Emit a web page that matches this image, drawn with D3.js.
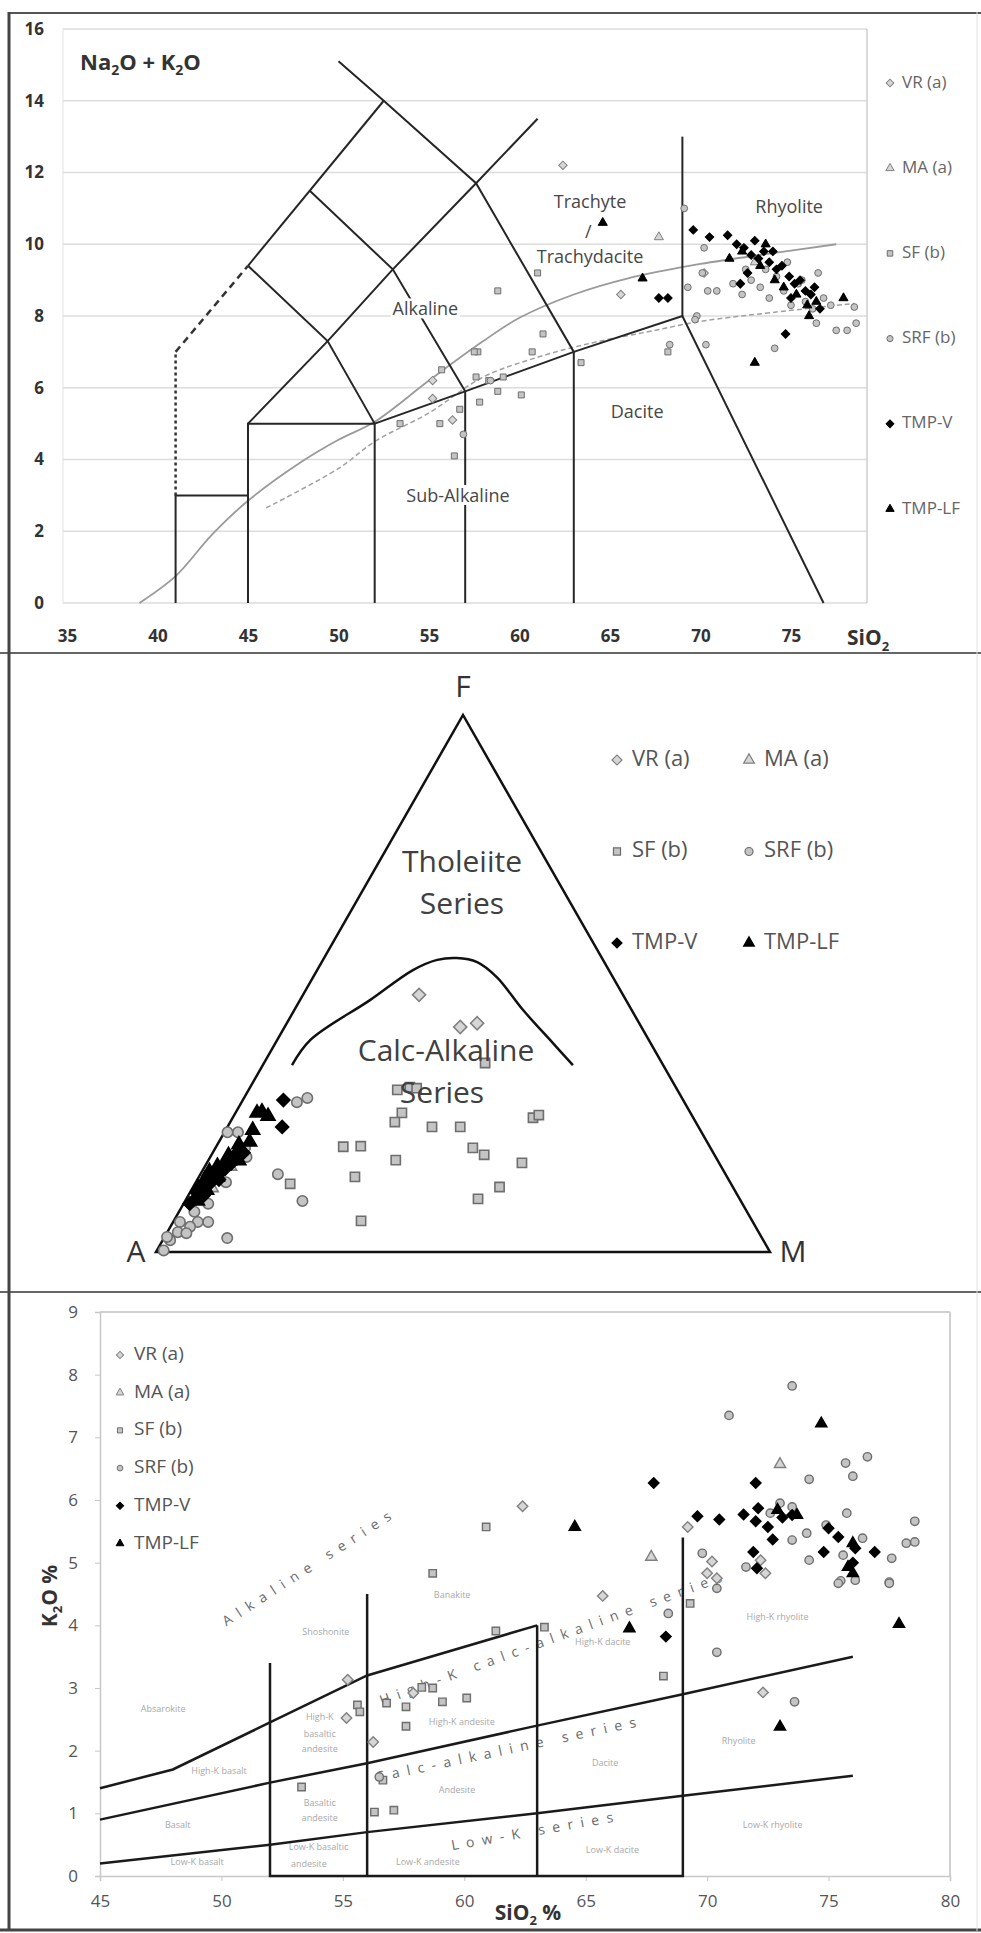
<!DOCTYPE html>
<html>
<head>
<meta charset="utf-8">
<script src="https://cdn.jsdelivr.net/npm/d3@7"></script>
<style>
body { margin: 0; background: #fff; }
svg { display: block; }
text { font-family: "Open Sans", sans-serif; }
</style>
</head>
<body>
<svg id="mysvg" width="981" height="1933"></svg>
<script>

var seriesNames = ["VR (a)", "MA (a)", "SF (b)", "SRF (b)", "TMP-V", "TMP-LF"];

// ---- TAS : [SiO2, Na2O+K2O]
var tasVR = [[62.4,12.2],[65.6,8.6],[55.2,6.2],[55.2,5.7],[56.3,5.1],[72.2,8.9],[70.2,9.2]];
var tasMA = [[67.7,10.2],[73.0,9.5]];
var tasSF = [[61.0,9.2],[58.8,8.7],[61.3,7.5],[57.7,7.0],[60.7,7.0],[57.6,6.3],[58.3,6.2],[58.8,5.9],[59.1,6.3],
	[57.8,5.6],[60.1,5.8],[63.4,6.7],[56.7,5.4],[56.4,4.1],[55.7,6.5],[53.4,5.0],[55.6,5.0],[68.2,7.0],[57.5,7.0]];
var tasSRF = [[69.1,11.0],[70.2,9.9],[70.1,9.2],[69.3,8.8],[70.4,8.7],[70.9,8.7],[69.8,8.0],[76.5,9.2],[78.5,8.25],
	[72.3,8.6],[68.3,7.2],[70.3,7.2],[69.7,7.9],[74.1,7.1],[76.4,7.8],[77.5,7.6],[78.1,7.6],[78.6,7.8],[56.9,4.7],
	[58.4,6.2],[72.8,9.0],[73.3,8.8],[73.8,8.5],[74.2,9.1],[74.6,8.7],[75.0,8.3],[75.4,8.9],[75.8,8.4],[76.2,8.2],
	[76.8,8.5],[77.2,8.3],[73.6,9.3],[74.8,9.5],[75.6,9.0],[72.5,9.3],[71.8,8.9]];
var tasTMPV = [[69.6,10.4],[70.5,10.2],[71.5,10.25],[67.7,8.5],[68.2,8.5],[74.7,7.5],[72.0,10.0],[72.4,9.9],[72.8,9.7],
	[73.2,9.6],[73.5,9.8],[73.8,9.5],[74.2,9.3],[74.5,9.4],[74.9,9.1],[75.2,8.9],[75.5,9.0],[75.8,8.7],[76.1,8.6],
	[76.3,8.8],[72.2,8.9],[72.6,9.2],[73.0,10.1],[74.0,9.8],[76.6,8.2],[75.0,8.5]];
var tasTMPLF = [[64.6,10.6],[66.8,9.05],[71.6,9.6],[77.9,8.5],[73.0,6.7],[72.3,9.8],[73.3,9.4],[74.1,9.0],[74.6,8.8],
	[75.3,8.6],[75.9,8.3],[76.4,8.4],[73.6,10.0],[76.0,8.0]];

var tasXTicks = [35, 40, 45, 50, 55, 60, 65, 70, 75];
var tasYTicks = [0, 2, 4, 6, 8, 10, 12, 14, 16];

var tasSolid = [
	[[41,0],[41,3],[45,3]],
	[[45,0],[45,5],[52,5],[52,0]],
	[[45,5],[49.4,7.3],[53,9.3],[57.6,11.7],[61,13.5]],
	[[45,9.4],[49.4,7.3],[52,5]],
	[[45,9.4],[52.5,14]],
	[[48.4,11.5],[53,9.3],[57,5.9]],
	[[50,15.1],[52.5,14],[57.6,11.7],[63,7]],
	[[52,5],[57,5.9],[63,7],[69,8],[76.8,0]],
	[[57,0],[57,5.9]],
	[[63,0],[63,7]],
	[[69,8],[69,13]]
];
var tasDotted = [[41,3],[41,7]];
var tasDashed = [[41,7],[45,9.4]];
var tasIrvine = [[39,0],[41,0.75],[43,1.9],[45,2.85],[48,3.95],[50,4.55],[52,5.05],[55,6.2],[58,7.3],[60,7.95],
	[63,8.6],[66,9.05],[70,9.45],[74,9.75],[77.5,10.0]];
var tasKuno = [[46,2.65],[50,3.75],[52,4.5],[55,5.3],[58,6.3],[61,6.85],[64,7.25],[67,7.55],[70,7.85],[74,8.1],[78.5,8.35]];

var tasNames = [["Trachyte",63.9,11.15],["/",63.8,10.3],["Trachydacite",63.9,9.6],["Rhyolite",74.9,11.0],
	["Dacite",66.5,5.3],["Alkaline",54.8,8.15],["Sub-Alkaline",56.6,2.95]];

// ---- AFM : [F %, M %]  (A = 100 - F - M)
var afmVR = [[47.9,18.9],[41.9,28.6],[42.6,31.0]];
var afmMA = [[12,3],[16,4]];
var afmSF = [[35.2,36.0],[30.2,24.2],[30.7,26.0],[30.5,27.2],[25.9,27.1],[24.2,26.8],[23.3,33.3],[23.3,37.9],
	[19.6,20.7],[19.7,23.5],[17.1,30.5],[14.0,25.4],[12.7,15.5],[5.8,30.5],[19.4,41.9],[18.1,44.4],[16.6,51.3],
	[12.1,49.9],[9.9,47.5],[25.0,48.9],[25.5,49.6]];
var afmSRF = [[27.9,9.0],[28.7,10.3],[14.5,12.6],[9.5,19.1],[2.6,10.3],[22.3,0.5],[22.3,2.2],[19.4,4.8],[17.7,5.9],
	[13.0,4.9],[5.6,5.7],[5.6,4.0],[4.7,3.2],[5.6,1.1],[2.2,1.2],[0.3,1.1],[2.8,0.4],[3.7,1.7],[3.5,3.2],[7.5,2.5],[9.0,4.0]];
var afmTMPV = [[28.3,6.6],[23.3,8.9],[9,1.0],[10,1.5],[11,1.2],[12,2.0],[12.5,1.4],[13,2.5],[14,1.8],[14.5,3.0],
	[15,2.2],[15.5,3.5],[16,2.8],[16.5,4.0],[17,3.2],[17.5,4.5],[18,3.8],[18.5,5.0],[10.5,2.5],[13.5,3.5]];
var afmTMPLF = [[25.9,3.5],[26.1,4.2],[25.3,5.6],[22.7,4.4],[9.5,2.0],[11.5,2.5],[12,0.8],[13.5,1.2],[14,3.0],
	[15,1.2],[16,2.0],[17,5.0],[18,2.8],[19,4.0],[20,3.5],[20.5,5.0]];
var afmCurve = [[34.8,4.75],[39.5,5.4],[46.9,11.4],[52.5,15.6],[54.4,18.6],[54.75,21.6],[54.0,25.3],[51.2,29.9],
	[45.1,37.2],[38.9,45.2],[34.8,50.5]];

// ---- K2O : [SiO2, K2O]
var kVR = [[62.4,5.9],[69.2,5.57],[70.2,5.02],[70.0,4.83],[70.4,4.75],[72.4,4.83],[72.2,5.04],[65.7,4.47],[72.3,2.93],
	[55.2,3.13],[55.15,2.52],[57.9,2.92],[56.25,2.14]];
var kMA = [[73.0,6.57],[67.7,5.09]];
var kSF = [[60.9,5.57],[58.7,4.83],[69.3,4.35],[68.2,3.19],[61.3,3.91],[63.3,3.97],[60.1,2.84],[55.6,2.73],[55.7,2.62],
	[56.8,2.76],[57.6,2.7],[58.25,3.01],[58.7,3.0],[59.1,2.78],[57.6,2.39],[56.65,1.53],[53.3,1.42],[56.3,1.02],[57.1,1.05]];
var kSRF = [[73.5,7.82],[70.9,7.35],[76.6,6.69],[75.7,6.59],[76.0,6.38],[74.2,6.33],[75.75,5.79],[78.55,5.66],[78.2,5.31],
	[78.55,5.33],[74.2,5.04],[77.6,5.07],[75.5,4.71],[77.5,4.69],[69.8,5.15],[73.5,5.36],[74.1,5.47],[73.0,5.95],
	[72.6,5.79],[74.9,5.6],[76.4,5.39],[75.6,5.12],[71.6,4.93],[73.5,5.89],[68.4,4.19],[70.4,4.59],[70.4,3.57],
	[73.6,2.78],[75.4,4.67],[76.1,4.72],[77.5,4.67],[56.5,1.58]];
var kTMPV = [[67.8,6.27],[72.0,6.27],[69.6,5.74],[70.5,5.69],[71.5,5.77],[72.0,5.66],[72.1,5.87],[72.5,5.57],[72.7,5.37],
	[73.1,5.72],[73.5,5.76],[75.0,5.55],[75.4,5.41],[76.1,5.23],[76.9,5.17],[74.8,5.17],[71.9,5.17],[72.05,4.91],
	[76.0,5.0],[68.3,3.82]];
var kTMPLF = [[74.7,7.22],[64.55,5.57],[73.7,5.76],[72.9,5.84],[76.0,5.31],[75.8,4.93],[76.0,4.83],[66.8,3.95],
	[73.0,2.38],[77.9,4.02]];

var kXTicks = [45, 50, 55, 60, 65, 70, 75, 80];
var kYTicks = [0, 1, 2, 3, 4, 5, 6, 7, 8, 9];

var kLines = [
	[[45,1.4],[48,1.7],[52,2.45],[56,3.2],[63,4.0]],
	[[45,0.9],[52,1.49],[56,1.8],[63,2.4],[69,2.9],[76,3.5]],
	[[45,0.2],[52,0.5],[56,0.7],[63,1.0],[69,1.28],[76,1.6]],
	[[52,3.4],[52,0],[69,0],[69,5.4]],
	[[56,0],[56,4.5]],
	[[63,0],[63,4.0]]
];
var kSeriesNames = [["Alkaline series", 50.2, 3.98, -33],
	["High-K calc-alkaline series", 56.6, 2.72, -20],
	["Calc-alkaline series", 56.4, 1.5, -12],
	["Low-K series", 59.5, 0.41, -10]];
var kFieldNames = [["Absarokite",47.6,2.65],["High-K basalt",49.9,1.66],["Basalt",48.2,0.8],["Low-K basalt",49.0,0.21],
	["Shoshonite",54.3,3.89],["High-K",54.05,2.52],["basaltic",54.05,2.26],["andesite",54.05,2.01],
	["Basaltic",54.05,1.16],["andesite",54.05,0.91],["Low-K basaltic",54.0,0.45],["andesite",53.6,0.18],
	["Banakite",59.5,4.48],["High-K andesite",59.9,2.44],["Andesite",59.7,1.37],["Low-K andesite",58.5,0.21],
	["High-K dacite",65.7,3.73],["Dacite",65.8,1.79],["Low-K dacite",66.1,0.4],["High-K rhyolite",72.9,4.13],
	["Rhyolite",71.3,2.14],["Low-K rhyolite",72.7,0.81]];


var markStyle = {
	"VR (a)": { sym: d3.symbolSquare, rot: 45, fill: "#d6d6d6", stroke: "#808080" },
	"MA (a)": { sym: d3.symbolTriangle, rot: 0, fill: "#d6d6d6", stroke: "#808080" },
	"SF (b)": { sym: d3.symbolSquare, rot: 0, fill: "#c4c4c4", stroke: "#6e6e6e" },
	"SRF (b)": { sym: d3.symbolCircle, rot: 0, fill: "#c4c4c4", stroke: "#6e6e6e" },
	"TMP-V": { sym: d3.symbolSquare, rot: 45, fill: "#000", stroke: "#000" },
	"TMP-LF": { sym: d3.symbolTriangle, rot: 0, fill: "#000", stroke: "#000" }
};

var svg = d3.select("#mysvg");

function drawMarks (g, data, name, px, py, size, sw) {
	var st = markStyle[name];
	g.selectAll(null).data(data).enter().append("path")
		.attr("d", d3.symbol().type(st.sym).size(size))
		.attr("transform", function (d) { return "translate(" + px(d) + "," + py(d) + ") rotate(" + st.rot + ")"; })
		.attr("fill", st.fill)
		.attr("stroke", st.stroke)
		.attr("stroke-width", sw);
}

// ===================== panel 1 : TAS =====================
var x1 = d3.scaleLinear().domain([35, 79.2]).range([67, 867]);
var y1 = d3.scaleLinear().domain([0, 16]).range([603, 29]);
var p1 = svg.append("g");

p1.selectAll(null).data(tasYTicks).enter().append("line")
	.attr("x1", 63).attr("x2", 867)
	.attr("y1", function (d) { return y1(d); }).attr("y2", function (d) { return y1(d); })
	.attr("stroke", "#dcdcdc").attr("stroke-width", 1.5);
p1.append("line").attr("x1", 63).attr("x2", 63).attr("y1", y1(16)).attr("y2", y1(0)).attr("stroke", "#e2e2e2");
p1.append("line").attr("x1", 867).attr("x2", 867).attr("y1", y1(16)).attr("y2", y1(0)).attr("stroke", "#cfcfcf").attr("stroke-width", 1.5);

var ax1 = p1.append("g").attr("transform", "translate(63,0)")
	.call(d3.axisLeft(y1).tickValues(tasYTicks).tickSize(0).tickPadding(19));
ax1.select(".domain").remove();
ax1.selectAll("text").attr("font-family", "Open Sans").attr("font-size", 17).attr("font-weight", "bold").attr("fill", "#333");

var ax1b = p1.append("g").attr("transform", "translate(0,603)")
	.call(d3.axisBottom(x1).tickValues(tasXTicks).tickSize(0).tickPadding(27));
ax1b.select(".domain").remove();
ax1b.selectAll("text").attr("font-family", "Open Sans").attr("font-size", 17).attr("font-weight", "bold").attr("fill", "#333");

var line1 = d3.line().x(function (d) { return x1(d[0]); }).y(function (d) { return y1(d[1]); });

p1.append("path").attr("d", line1.curve(d3.curveCatmullRom)(tasIrvine))
	.attr("fill", "none").attr("stroke", "#9a9a9a").attr("stroke-width", 1.8);
p1.append("path").attr("d", line1.curve(d3.curveCatmullRom)(tasKuno))
	.attr("fill", "none").attr("stroke", "#a0a0a0").attr("stroke-width", 1.5).attr("stroke-dasharray", "5,3");
line1.curve(d3.curveLinear);

p1.selectAll(null).data(tasSolid).enter().append("path")
	.attr("d", line1).attr("fill", "none").attr("stroke", "#262626").attr("stroke-width", 2);
p1.append("path").attr("d", line1(tasDotted)).attr("fill", "none").attr("stroke", "#333").attr("stroke-width", 2.5).attr("stroke-dasharray", "3,3");
p1.append("path").attr("d", line1(tasDashed)).attr("fill", "none").attr("stroke", "#333").attr("stroke-width", 2.5).attr("stroke-dasharray", "7,5");

// field names (white boxes break the lines behind them)
p1.selectAll(null).data(tasNames).enter().append("text")
	.attr("x", function (d) { return x1(d[1]); })
	.attr("y", function (d) { return y1(d[2]); })
	.attr("text-anchor", "middle").attr("dominant-baseline", "middle")
	.attr("font-size", 18).attr("fill", "#474747")
	.text(function (d) { return d[0]; })
	.each(function (d) {
		if (d[0] == "Alkaline" || d[0] == "Sub-Alkaline") {
			var b = this.getBBox();
			d3.select(this.parentNode).insert("rect", function () { return this; }.bind(this))
				.attr("x", b.x - 2).attr("y", b.y + 2).attr("width", b.width + 4).attr("height", b.height - 4)
				.attr("fill", "#fff");
		}
	});

var tasSets = [tasVR, tasMA, tasSF, tasSRF, tasTMPV, tasTMPLF];
tasSets.forEach(function (set, i) {
	drawMarks(p1, set, seriesNames[i], function (d) { return x1(d[0]); }, function (d) { return y1(d[1]); }, 36, 1);
});

// legend
var leg1 = p1.append("g");
seriesNames.forEach(function (n, i) {
	var yy = 83 + i * 85.2;
	drawMarks(leg1, [0], n, function () { return 890; }, function () { return yy; }, 30, 1);
	leg1.append("text").attr("x", 902).attr("y", yy).attr("dominant-baseline", "middle")
		.attr("font-size", 17).attr("fill", "#666").text(n);
});

var t1 = p1.append("text").attr("x", 80).attr("y", 70).attr("font-size", 22).attr("font-weight", "bold").attr("fill", "#333");
t1.append("tspan").text("Na");
t1.append("tspan").attr("font-size", 14).attr("dy", 5).text("2");
t1.append("tspan").attr("dy", -5).text("O + K");
t1.append("tspan").attr("font-size", 14).attr("dy", 5).text("2");
t1.append("tspan").attr("dy", -5).text("O");

var s1 = p1.append("text").attr("x", 847).attr("y", 645).attr("font-size", 21).attr("font-weight", "bold").attr("fill", "#333");
s1.append("tspan").text("SiO");
s1.append("tspan").attr("font-size", 13).attr("dy", 6).text("2");

// ===================== panel 2 : AFM =====================
var tx = d3.scaleLinear().domain([0, 100]).range([156, 770]);
var ty = d3.scaleLinear().domain([0, 100]).range([1252, 715]);
function afmX (d) { return tx(d[1] + d[0] / 2); }
function afmY (d) { return ty(d[0]); }
var p2 = svg.append("g");

var triangle = [[0, 0], [0, 100], [100, 0]];
p2.append("path")
	.attr("d", d3.line().x(afmX).y(afmY)(triangle) + "Z")
	.attr("fill", "none").attr("stroke", "#111").attr("stroke-width", 2.5).attr("stroke-linejoin", "miter");
p2.append("path")
	.attr("d", d3.line().x(afmX).y(afmY).curve(d3.curveCatmullRom)(afmCurve))
	.attr("fill", "none").attr("stroke", "#111").attr("stroke-width", 2.5);

p2.append("text").attr("x", afmX([100, 0])).attr("y", 697).attr("text-anchor", "middle")
	.attr("font-size", 30).attr("fill", "#333").text("F");
p2.append("text").attr("x", 136).attr("y", 1262).attr("text-anchor", "middle")
	.attr("font-size", 30).attr("fill", "#333").text("A");
p2.append("text").attr("x", 793).attr("y", 1262).attr("text-anchor", "middle")
	.attr("font-size", 30).attr("fill", "#333").text("M");

[["Tholeiite", 872], ["Series", 914]].forEach(function (d) {
	p2.append("text").attr("x", 462).attr("y", d[1]).attr("text-anchor", "middle")
		.attr("font-size", 30).attr("fill", "#404040").text(d[0]);
});

var afmSets = [afmVR, afmMA, afmSF, afmSRF, afmTMPV, afmTMPLF];
afmSets.forEach(function (set, i) {
	drawMarks(p2, set, seriesNames[i], afmX, afmY, 85, 1.6);
});

[["Calc-Alkaline", 446, 1061], ["Series", 442, 1103]].forEach(function (d) {
	p2.append("text").attr("x", d[1]).attr("y", d[2]).attr("text-anchor", "middle")
		.attr("font-size", 30).attr("fill", "#404040").text(d[0]);
});

var leg2 = p2.append("g");
seriesNames.forEach(function (n, i) {
	var lx = (i % 2 == 0) ? 617 : 749;
	var ly = 760 + Math.floor(i / 2) * 91.5;
	drawMarks(leg2, [0], n, function () { return lx; }, function () { return ly; }, 50, 1.2);
	leg2.append("text").attr("x", lx + 15).attr("y", ly).attr("dominant-baseline", "middle")
		.attr("font-size", 22).attr("fill", "#555").text(n);
});

// ===================== panel 3 : K2O - SiO2 =====================
var x3 = d3.scaleLinear().domain([45, 80]).range([100, 950]);
var y3 = d3.scaleLinear().domain([0, 9]).range([1876, 1312]);
var p3 = svg.append("g");

p3.append("line").attr("x1", 100).attr("x2", 950).attr("y1", y3(9)).attr("y2", y3(9)).attr("stroke", "#d0d0d0").attr("stroke-width", 2);
p3.append("line").attr("x1", 950).attr("x2", 950).attr("y1", y3(9)).attr("y2", y3(0)).attr("stroke", "#d0d0d0").attr("stroke-width", 2);

var ax3 = p3.append("g").attr("transform", "translate(100,0)")
	.call(d3.axisLeft(y3).tickValues(kYTicks).tickSize(5).tickPadding(17));
ax3.select(".domain").attr("stroke", "#c8c8c8").attr("stroke-width", 1.5);
ax3.selectAll("line").attr("stroke", "#c8c8c8");
ax3.selectAll("text").attr("font-family", "Open Sans").attr("font-size", 17).attr("fill", "#555");

var ax3b = p3.append("g").attr("transform", "translate(0,1876)")
	.call(d3.axisBottom(x3).tickValues(kXTicks).tickSize(5).tickPadding(14));
ax3b.select(".domain").attr("stroke", "#c8c8c8").attr("stroke-width", 1.5);
ax3b.selectAll("line").attr("stroke", "#c8c8c8");
ax3b.selectAll("text").attr("font-family", "Open Sans").attr("font-size", 17).attr("fill", "#555");

p3.selectAll(null).data(kFieldNames).enter().append("text")
	.attr("x", function (d) { return x3(d[1]); }).attr("y", function (d) { return y3(d[2]); })
	.attr("text-anchor", "middle").attr("dominant-baseline", "middle")
	.attr("font-size", 9).attr("fill", "#a8a8a8").text(function (d) { return d[0]; });

p3.selectAll(null).data(kSeriesNames).enter().append("text")
	.attr("transform", function (d) { return "translate(" + x3(d[1]) + "," + y3(d[2]) + ") rotate(" + d[3] + ")"; })
	.attr("font-size", 14).attr("fill", "#6a6a6a").attr("letter-spacing", 7.5)
	.text(function (d) { return d[0]; });

var line3 = d3.line().x(function (d) { return x3(d[0]); }).y(function (d) { return y3(d[1]); });
p3.selectAll(null).data(kLines).enter().append("path")
	.attr("d", line3).attr("fill", "none").attr("stroke", "#1a1a1a").attr("stroke-width", 2.5);

var kSets = [kVR, kMA, kSF, kSRF, kTMPV, kTMPLF];
kSets.forEach(function (set, i) {
	drawMarks(p3, set, seriesNames[i], function (d) { return x3(d[0]); }, function (d) { return y3(d[1]); }, 55, 1.4);
});

var leg3 = p3.append("g");
seriesNames.forEach(function (n, i) {
	var ly = 1355 + i * 37.7;
	drawMarks(leg3, [0], n, function () { return 120; }, function () { return ly; }, 26, 1);
	leg3.append("text").attr("x", 134).attr("y", ly).attr("dominant-baseline", "middle")
		.attr("font-size", 19).attr("fill", "#555").text(n);
});

var kt = p3.append("text").attr("transform", "translate(57,1596) rotate(-90)")
	.attr("text-anchor", "middle").attr("font-size", 21).attr("font-weight", "bold").attr("fill", "#333");
kt.append("tspan").text("K");
kt.append("tspan").attr("font-size", 13).attr("dy", 5).text("2");
kt.append("tspan").attr("dy", -5).text("O %");

var st3 = p3.append("text").attr("x", 528).attr("y", 1920).attr("text-anchor", "middle")
	.attr("font-size", 21).attr("font-weight", "bold").attr("fill", "#333");
st3.append("tspan").text("SiO");
st3.append("tspan").attr("font-size", 13).attr("dy", 5).text("2");
st3.append("tspan").attr("dy", -5).text(" %");

// ===================== frame =====================
var frame = svg.append("g");
frame.append("line").attr("x1", 9).attr("x2", 981).attr("y1", 13).attr("y2", 13).attr("stroke", "#555").attr("stroke-width", 2);
frame.append("line").attr("x1", 0).attr("x2", 981).attr("y1", 653).attr("y2", 653).attr("stroke", "#666").attr("stroke-width", 2);
frame.append("line").attr("x1", 0).attr("x2", 981).attr("y1", 1292).attr("y2", 1292).attr("stroke", "#666").attr("stroke-width", 2);
frame.append("line").attr("x1", 0).attr("x2", 981).attr("y1", 1930).attr("y2", 1930).attr("stroke", "#444").attr("stroke-width", 3);
frame.append("line").attr("x1", 9).attr("x2", 9).attr("y1", 12).attr("y2", 1931).attr("stroke", "#444").attr("stroke-width", 3);
frame.append("line").attr("x1", 977).attr("x2", 977).attr("y1", 12).attr("y2", 1931).attr("stroke", "#e0e0e0").attr("stroke-width", 1);

</script>
</body>
</html>
